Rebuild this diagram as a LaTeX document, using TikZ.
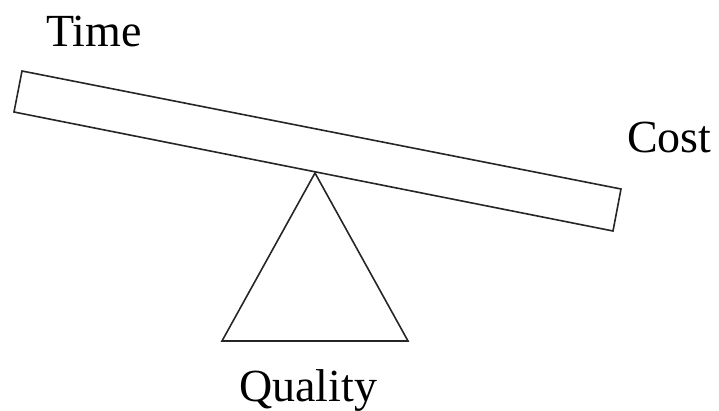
\documentclass[tikz,border=0pt]{standalone}
\usepackage{fontspec}
\setmainfont{Liberation Serif}
\begin{document}
\begin{tikzpicture}[x=1pt,y=-1pt,
  shape line/.style={draw=black!85, line width=1.6pt, line join=miter},
  lbl/.style={inner sep=0pt, anchor=base west, font=\fontsize{46}{55}\selectfont}]
\useasboundingbox (0,0) rectangle (719,411);
\coordinate (p1) at (22,71);
\coordinate (p2) at (621,189);
\coordinate (p3) at (613,231);
\coordinate (p4) at (14,112);
\draw[shape line] (p1) -- (p2) -- (p3) -- (p4) -- cycle;
\coordinate (apex) at (315,173);
\coordinate (bl) at (222,341);
\coordinate (br) at (408,341);
\draw[shape line] (apex) -- (br) -- (bl) -- cycle;
\node[lbl] (time) at (46,47) {Time};
\node[lbl] (cost) at (627,153) {Cost};
\node[lbl] (quality) at (239,401) {Quality};
\end{tikzpicture}
\end{document}
